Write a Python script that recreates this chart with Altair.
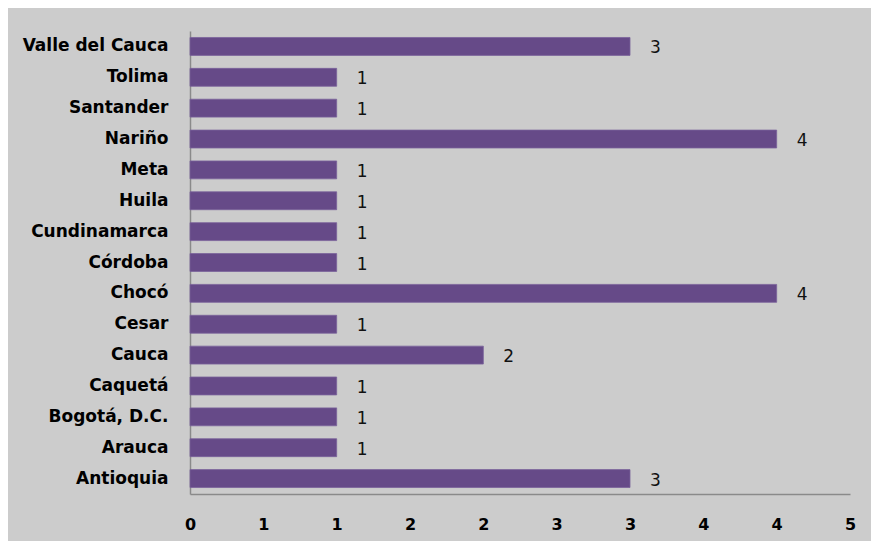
import altair as alt
import pandas as pd

categories = ["Valle del Cauca", "Tolima", "Santander", "Nariño", "Meta", "Huila",
              "Cundinamarca", "Córdoba", "Chocó", "Cesar", "Cauca", "Caquetá",
              "Bogotá, D.C.", "Arauca", "Antioquia"]
values = [3, 1, 1, 4, 1, 1, 1, 1, 4, 1, 2, 1, 1, 1, 3]
tick_values = [0, 0.5, 1, 1.5, 2, 2.5, 3, 3.5, 4, 4.5]

df = pd.DataFrame({"dep": categories, "n": values})

x = alt.X("n:Q", scale=alt.Scale(domain=[0, 4.5], nice=False, zero=True),
          axis=alt.Axis(values=tick_values, labelExpr="format(round(datum.value), 'd')",
                        title=None, grid=False, ticks=False, domain=True,
                        domainColor="#8a8a8a", domainWidth=1.5,
                        labelFont="DejaVu Sans", labelFontWeight="bold", labelFontSize=16,
                        labelColor="#000000", labelPadding=22, labelFlush=False))
y = alt.Y("dep:N", sort=categories,
          scale=alt.Scale(paddingInner=0.42, paddingOuter=0.21),
          axis=alt.Axis(title=None, ticks=False, domain=True, domainColor="#8a8a8a",
                        domainWidth=1.5, labelFont="DejaVu Sans", labelFontWeight="bold",
                        labelFontSize=17, labelColor="#000000", labelPadding=22,
                        labelLimit=300))

bars = alt.Chart(df).mark_bar(color="#664a88", stroke="#7a629a", strokeWidth=0.8).encode(x=x, y=y)
labels = alt.Chart(df).mark_text(align="left", baseline="middle", dx=20, dy=2,
                                 font="DejaVu Sans", fontSize=17, color="#111111").encode(
    x="n:Q", y=alt.Y("dep:N", sort=categories), text="n:Q")

chart = (bars + labels).properties(
    width=660, height=463,
    autosize=alt.AutoSizeParams(type="none"),
    padding={"left": 182, "top": 23, "right": 21, "bottom": 47},
    background="#cccccc",
).configure_view(stroke=None)

chart.save("out.html", embed_options={"renderer": "svg", "actions": False})
